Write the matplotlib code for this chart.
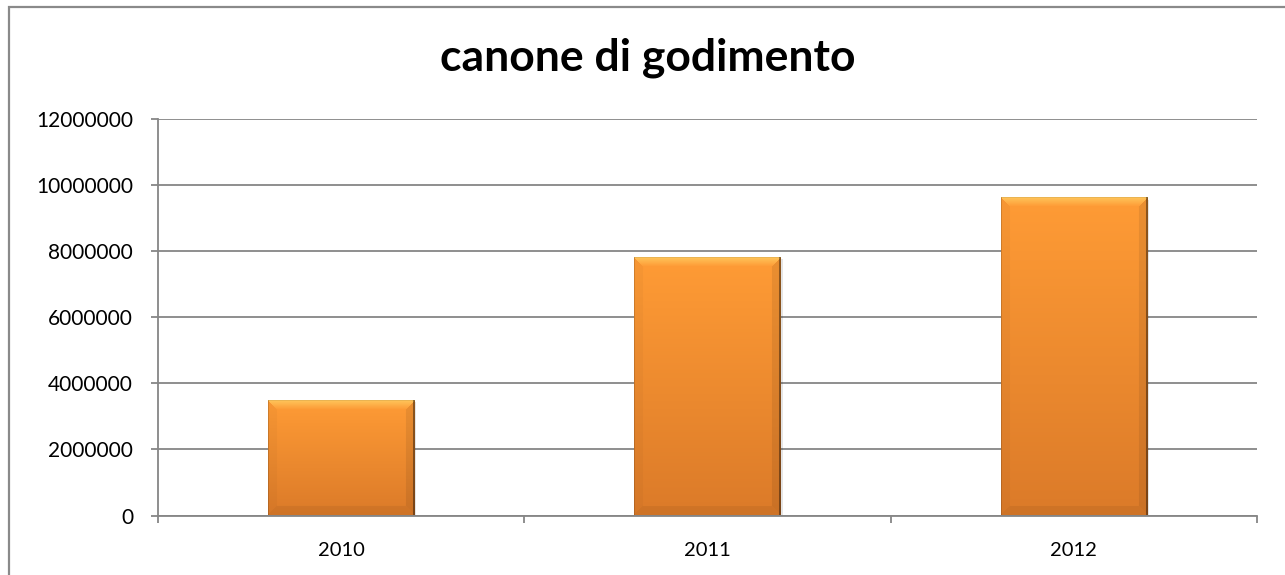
import numpy as np
import matplotlib
matplotlib.use("Agg")
import matplotlib.pyplot as plt
from matplotlib.patches import Rectangle

# data
years = ["2010", "2011", "2012"]
values = [3460000, 7790000, 9610000]
y_ticks = [0, 2000000, 4000000, 6000000, 8000000, 10000000, 12000000]
title = "canone di godimento"

plt.rcParams["font.family"] = ["Lato", "DejaVu Sans"]

fig = plt.figure(figsize=(12.85, 5.75), dpi=100)
ax = fig.add_axes([158 / 1285, 59.5 / 575, 1099 / 1285, 396.5 / 575])

# chart border (cut off at right/bottom like the screenshot)
fig.patches.append(Rectangle((8.5 / 1285, -0.1), 1.2, (575 - 6.5) / 575 + 0.1,
                             transform=fig.transFigure, fill=False,
                             edgecolor="#8a8a8a", linewidth=1.6, zorder=0))

ax.set_xlim(-0.5, 2.5)
ax.set_ylim(0, 12000000)
ax.set_yticks(y_ticks)
ax.set_yticklabels([str(v) for v in y_ticks])
ax.yaxis.grid(True, color="#868686", linewidth=1.3)
ax.set_axisbelow(True)

ax.set_xticks(range(len(years)))
ax.set_xticklabels(years)
ax.set_xticks([-0.5, 0.5, 1.5, 2.5], minor=True)
ax.tick_params(axis="x", which="major", length=0, pad=19, labelsize=14.5)
ax.tick_params(axis="x", which="minor", length=5, width=1.3, color="#868686")
ax.tick_params(axis="y", length=5, width=1.3, color="#868686", pad=13,
               labelsize=15)

for s in ["top", "right"]:
    ax.spines[s].set_visible(False)
for s in ["left", "bottom"]:
    ax.spines[s].set_color("#868686")
    ax.spines[s].set_linewidth(1.3)


def bar_image(h_px, w_px):
    # vertical gradient, light at top, darker at bottom
    t = np.linspace(0, 1, h_px)[:, None]
    top = np.array([1.0, 0.61, 0.21])
    bot = np.array([0.86, 0.48, 0.16])
    img = (top * (1 - t[..., None]) + bot * t[..., None]) * np.ones((1, w_px, 1))
    xx = np.arange(w_px)[None, :]
    yy = np.arange(h_px)[:, None]
    b = 9
    # top bevel highlight, fading downward
    m = (yy < b) & (xx >= yy) & (xx < w_px - yy)
    hl = np.array([1.0, 0.82, 0.40])
    f = np.broadcast_to(1 - yy / b, (h_px, w_px))[m][:, None] * 0.75
    img[m] = hl * f + img[m] * (1 - f)
    # bottom bevel slightly darker
    m = (yy >= h_px - b) & (xx >= h_px - 1 - yy) & (xx < w_px - (h_px - 1 - yy))
    img[m] = img[m] * 0.94
    # left edge slight shade, right edge darker
    m = (xx < b) & (yy > xx) & (yy < h_px - 1 - xx)
    img[m] = img[m] * 0.97
    m = (xx >= w_px - b) & (yy > w_px - 1 - xx) & (yy < h_px - (w_px - xx))
    img[m] = img[m] * 0.92
    img[:, -2:] = img[:, -2:] * 0.6
    img[:, :1] = img[:, :1] * 0.85
    img[:1, :] = img[:1, :] * 0.92
    return np.clip(img, 0, 1)


width = 0.4
px_per_val = 396.5 / 12000000
px_per_cat = 1099 / 3
for i, v in enumerate(values):
    x0, x1 = i - width / 2, i + width / 2
    # soft shadow
    ax.add_patch(Rectangle((x0 + 0.005, 0), width, v * 0.995, facecolor="#000000",
                           alpha=0.10, edgecolor="none", zorder=1.5))
    img = bar_image(max(int(v * px_per_val), 20), int(width * px_per_cat))
    ax.imshow(img, extent=(x0, x1, 0, v), aspect="auto", zorder=2,
              interpolation="bilinear")

ax.set_xlim(-0.5, 2.5)
ax.set_ylim(0, 12000000)

fig.text(648 / 1285, 1 - 58 / 575, title, ha="center", va="center",
         fontsize=32, fontweight="bold")

fig.savefig("out.png", dpi=100)
